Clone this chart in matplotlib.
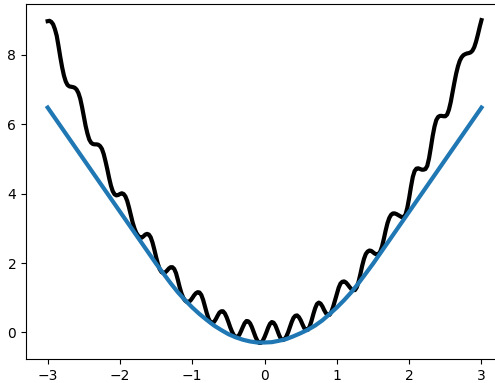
import numpy as np
import matplotlib
matplotlib.use('Agg')
import matplotlib.pyplot as plt

# black wiggly curve on a 0.025 grid from -3 to 3
x_black = np.linspace(-3, 3, 241)
y_black = [
    8.97, 8.98, 8.95, 8.88, 8.74, 8.55, 8.25, 7.93, 7.64, 7.40,
    7.23, 7.13, 7.09, 7.08, 7.07, 7.05, 7.00, 6.90, 6.74, 6.50,
    6.22, 5.95, 5.73, 5.56, 5.47, 5.43, 5.42, 5.42, 5.41, 5.37,
    5.29, 5.14, 4.93, 4.70, 4.45, 4.23, 4.07, 3.98, 3.95, 3.96,
    3.99, 4.01, 3.99, 3.92, 3.79, 3.60, 3.38, 3.17, 3.00, 2.87,
    2.79, 2.74, 2.73, 2.77, 2.82, 2.84, 2.82, 2.74, 2.59, 2.39,
    2.17, 1.97, 1.82, 1.74, 1.71, 1.73, 1.78, 1.84, 1.88, 1.88,
    1.83, 1.71, 1.52, 1.31, 1.13, 1.00, 0.92, 0.88, 0.88, 0.92,
    0.99, 1.07, 1.13, 1.16, 1.15, 1.08, 0.94, 0.75, 0.56, 0.40,
    0.30, 0.27, 0.30, 0.38, 0.48, 0.57, 0.61, 0.61, 0.55, 0.44,
    0.30, 0.15, 0.02, -0.08, -0.13, -0.13, -0.07, 0.04, 0.16, 0.27,
    0.33, 0.32, 0.26, 0.15, 0.01, -0.13, -0.24, -0.30, -0.30, -0.24,
    -0.13, 0.00, 0.14, 0.25, 0.30, 0.28, 0.20, 0.07, -0.07, -0.18,
    -0.22, -0.20, -0.12, 0.00, 0.15, 0.30, 0.42, 0.48, 0.49, 0.44,
    0.35, 0.23, 0.12, 0.07, 0.08, 0.18, 0.34, 0.53, 0.70, 0.82,
    0.86, 0.83, 0.75, 0.64, 0.55, 0.50, 0.51, 0.60, 0.75, 0.93,
    1.12, 1.29, 1.41, 1.46, 1.47, 1.44, 1.38, 1.31, 1.25, 1.22,
    1.22, 1.30, 1.46, 1.68, 1.92, 2.12, 2.26, 2.33, 2.36, 2.35,
    2.31, 2.27, 2.25, 2.26, 2.33, 2.48, 2.70, 2.94, 3.15, 3.30,
    3.39, 3.43, 3.43, 3.41, 3.38, 3.35, 3.32, 3.33, 3.40, 3.60,
    3.88, 4.20, 4.48, 4.65, 4.72, 4.73, 4.71, 4.69, 4.69, 4.71,
    4.80, 5.02, 5.33, 5.66, 5.93, 6.12, 6.21, 6.24, 6.24, 6.23,
    6.23, 6.28, 6.42, 6.64, 6.92, 7.20, 7.46, 7.67, 7.83, 7.93,
    7.99, 8.02, 8.04, 8.05, 8.07, 8.12, 8.22, 8.38, 8.58, 8.80,
    9.00,
]

# smooth blue curve
x_blue = [-3.0, -2.5, -2.0, -1.75, -1.5, -1.4, -1.3, -1.2, -1.1, -1.0,
          -0.9, -0.8, -0.7, -0.6, -0.5, -0.4, -0.3, -0.2, -0.1, 0.0,
          0.1, 0.2, 0.3, 0.4, 0.5, 0.6, 0.7, 0.8, 0.9, 1.0,
          1.1, 1.2, 1.3, 1.4, 1.5, 1.75, 2.0, 2.5, 3.0]
y_blue = [6.48, 4.98, 3.48, 2.73, 1.98, 1.70, 1.42, 1.16, 0.93, 0.72,
          0.53, 0.36, 0.20, 0.07, -0.05, -0.14, -0.21, -0.26, -0.29, -0.29,
          -0.28, -0.24, -0.19, -0.11, -0.02, 0.08, 0.20, 0.35, 0.53, 0.72,
          0.93, 1.16, 1.42, 1.70, 1.98, 2.73, 3.48, 4.98, 6.48]

fig = plt.figure(figsize=(4.95, 3.83), dpi=100)
ax = fig.add_axes([0.0525, 0.0627, 0.964, 0.9269])
ax.plot(x_black, y_black, color='black', lw=3)
ax.plot(x_blue, y_blue, color='#1f77b4', lw=3)
ax.set_xlim(-3.3, 3.3)
ax.set_ylim(-0.765, 9.465)
ax.set_xticks([-3, -2, -1, 0, 1, 2, 3])
ax.set_yticks([0, 2, 4, 6, 8])

fig.savefig('out.png', dpi=100)
